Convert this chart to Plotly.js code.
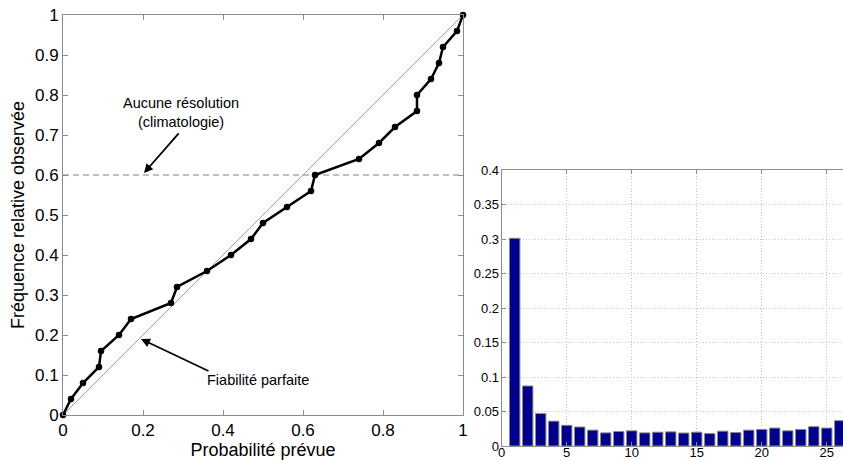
<!DOCTYPE html>
<html><head><meta charset="utf-8">
<script src="https://cdn.plot.ly/plotly-3.0.1.min.js"></script>
<style>html,body{margin:0;padding:0;background:#fff}#c{width:843px;height:461px}</style>
</head><body><div id="c"></div>
<script>
// Reliability diagram
const forecastProb = [0,0.02,0.05,0.09,0.095,0.14,0.17,0.27,0.285,0.36,0.42,0.47,0.50,0.56,0.62,0.63,0.74,0.79,0.83,0.885,0.885,0.92,0.94,0.95,0.985,1.0];
const observedFreq = [0,0.04,0.08,0.12,0.16,0.20,0.24,0.28,0.32,0.36,0.40,0.44,0.48,0.52,0.56,0.60,0.64,0.68,0.72,0.76,0.80,0.84,0.88,0.92,0.96,1.0];
const perfectLine = [0,1];
const climatology = 0.6;
// Sharpness histogram
const binIndex = [1,2,3,4,5,6,7,8,9,10,11,12,13,14,15,16,17,18,19,20,21,22,23,24,25,26];
const binFreq = [0.301,0.087,0.047,0.036,0.030,0.0275,0.023,0.019,0.021,0.022,0.019,0.020,0.0205,0.0188,0.020,0.018,0.0215,0.0195,0.023,0.024,0.026,0.022,0.024,0.028,0.026,0.0367];
const leftXTicks = [0,0.2,0.4,0.6,0.8,1];
const leftYTicks = [0,0.1,0.2,0.3,0.4,0.5,0.6,0.7,0.8,0.9,1];
const rightXTicks = [0,5,10,15,20,25];
const rightYTicks = [0,0.05,0.1,0.15,0.2,0.25,0.3,0.35,0.4];

const W = 843, H = 461;
const F = 'Liberation Sans, Arial, sans-serif';
const axisCol = '#8c8c8c';

const traces = [
  {x: perfectLine, y: perfectLine, mode:'lines', line:{color:'#a0a0a0', width:1}, xaxis:'x', yaxis:'y', hoverinfo:'skip'},
  {x: perfectLine, y: [climatology, climatology], mode:'lines', line:{color:'#808080', width:1, dash:'6px,4px'}, xaxis:'x', yaxis:'y', hoverinfo:'skip'},
  {x: forecastProb, y: observedFreq, mode:'lines+markers', line:{color:'#000', width:2.5}, marker:{color:'#000', size:6.5}, xaxis:'x', yaxis:'y', cliponaxis:false},
  {x: binIndex, y: binFreq, type:'bar', width:0.8, marker:{color:'#00008c', line:{color:'#8a8a8a', width:1}}, xaxis:'x2', yaxis:'y2'}
];

const leftAxisCommon = {showline:true, linecolor:axisCol, linewidth:1, mirror:'ticks', ticks:'inside', ticklen:5, tickcolor:axisCol, showgrid:false, zeroline:false, tickfont:{family:F, size:17, color:'#000'}};
const rightAxisCommon = {showline:true, linecolor:axisCol, linewidth:1, ticks:'inside', ticklen:4, tickcolor:axisCol, showgrid:true, gridcolor:'#c4c4c4', griddash:'1px,2px', gridwidth:1, zeroline:false, tickfont:{family:F, size:13, color:'#000'}};

const layout = {
  width: W, height: H,
  margin:{l:0,r:0,t:0,b:0},
  paper_bgcolor:'#fff', plot_bgcolor:'#fff',
  showlegend:false,
  font:{family:F, color:'#000'},
  xaxis: Object.assign({}, leftAxisCommon, {domain:[63/W, 463/W], range:[0,1], tickvals:leftXTicks, ticktext:['0','0.2','0.4','0.6','0.8','1'], anchor:'y',
    title:{text:'Probabilité prévue', font:{family:F, size:18, color:'#000'}, standoff:3}}),
  yaxis: Object.assign({}, leftAxisCommon, {domain:[46/H, 446/H], range:[0,1], tickvals:leftYTicks, ticktext:['0','0.1','0.2','0.3','0.4','0.5','0.6','0.7','0.8','0.9','1'], anchor:'x',
    title:{text:'Fréquence relative observée', font:{family:F, size:18, color:'#000'}, standoff:5}}),
  xaxis2: Object.assign({}, rightAxisCommon, {domain:[501.7/W, 1], range:[0, 26.25], tickvals:rightXTicks, anchor:'y2', mirror:'ticks', ticklabelstandoff:-6}),
  yaxis2: Object.assign({}, rightAxisCommon, {domain:[15/H, 291/H], range:[0,0.4], tickvals:rightYTicks, ticktext:['0','0.05','0.1','0.15','0.2','0.25','0.3','0.35','0.4'], anchor:'x2', ticklabelstandoff:-1}),
  annotations: [
    {x:0.295, y:0.755, xref:'x', yref:'y', text:'Aucune résolution<br>(climatologie)', showarrow:false, font:{family:F, size:14.5, color:'#000'}},
    {x:0.2025, y:0.605, xref:'x', yref:'y', ax:0.2925, ay:0.708, axref:'x', ayref:'y', text:'', showarrow:true, arrowhead:2, arrowsize:1, arrowwidth:1.8, arrowcolor:'#000'},
    {x:0.4875, y:0.0875, xref:'x', yref:'y', text:'Fiabilité parfaite', showarrow:false, font:{family:F, size:14.5, color:'#000'}},
    {x:0.195, y:0.19, xref:'x', yref:'y', ax:0.3675, ay:0.1083, axref:'x', ayref:'y', text:'', showarrow:true, arrowhead:2, arrowsize:1, arrowwidth:1.8, arrowcolor:'#000'}
  ]
};
Plotly.newPlot('c', traces, layout, {displayModeBar:false, staticPlot:true});
</script>
</body></html>
